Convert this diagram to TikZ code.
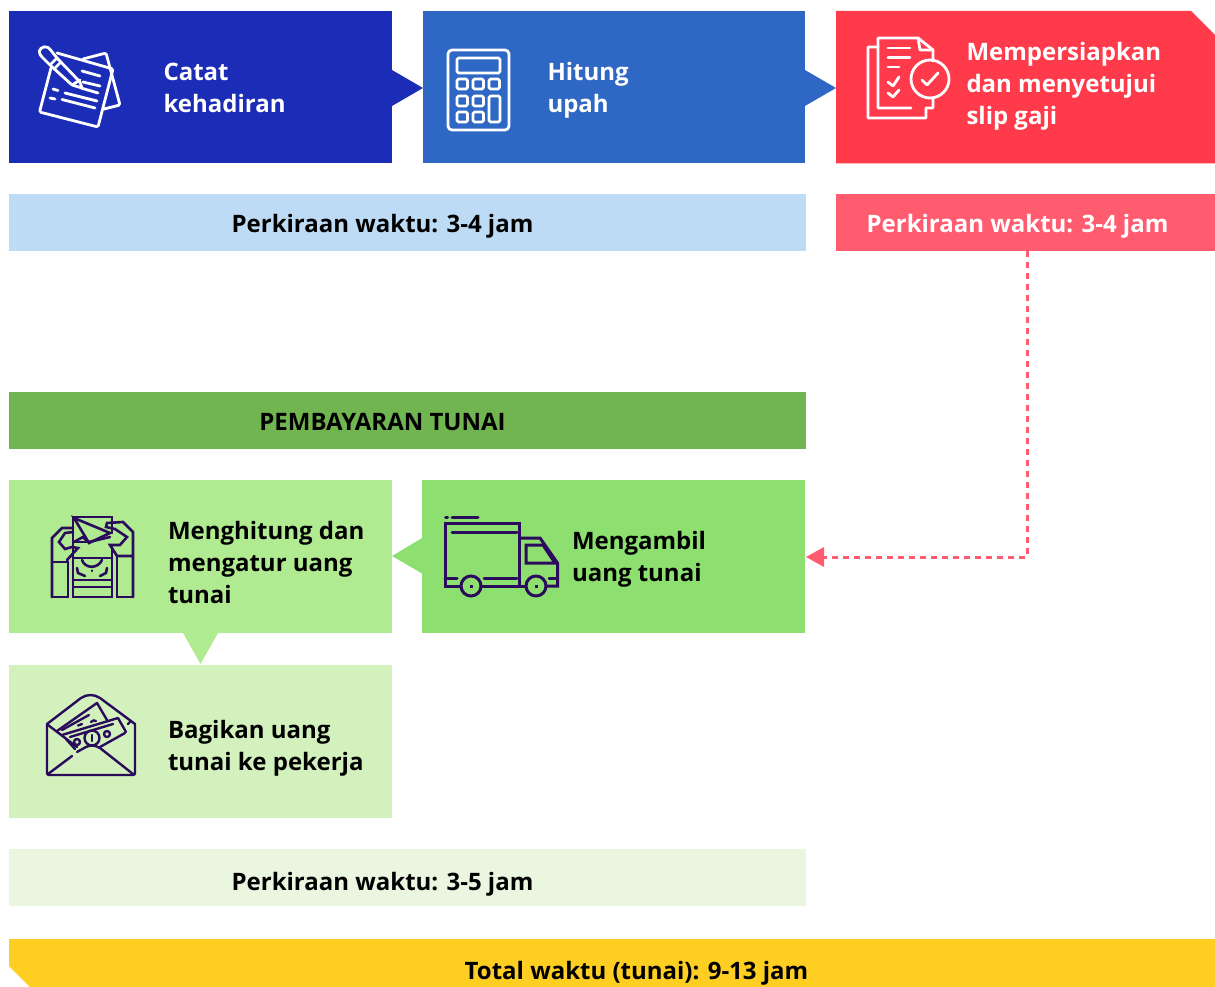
\documentclass[tikz,border=0pt]{standalone}
\usepackage{fontspec}
\usetikzlibrary{calc}
\setmainfont{Open Sans}
\definecolor{cblue}{HTML}{1B2DB6}
\definecolor{cmid}{HTML}{2F68C4}
\definecolor{cred}{HTML}{FF3B4B}
\definecolor{cestb}{HTML}{BDDBF4}
\definecolor{cestr}{HTML}{FF5C70}
\definecolor{cgreen}{HTML}{71B551}
\definecolor{clight}{HTML}{B0EB91}
\definecolor{cgmid}{HTML}{8DDF70}
\definecolor{cpale}{HTML}{D2F1BC}
\definecolor{cestg}{HTML}{EAF6DF}
\definecolor{cyel}{HTML}{FFCE23}
\definecolor{cink}{HTML}{2B0B5C}
\tikzset{
  x=1pt,y=-1pt,
  boxn/.style={fill=#1,inner sep=0,outer sep=0,minimum width=383,minimum height=153,anchor=north west},
  bar/.style={fill=#1,inner sep=0,outer sep=0,minimum width=797,minimum height=57,anchor=north west},
  txt/.style={inner sep=0,outer sep=0,align=left,anchor=west,font=\fontsize{24}{32}\selectfont\bfseries,text=#1},
  lbl/.style={inner sep=0,outer sep=0,anchor=base,font=\fontsize{24}{32}\selectfont\bfseries,text=#1},
  iw/.style={draw=white,line width=2.8,rounded corners=1.5,line cap=round,line join=round},
  ik/.style={draw=cink,line width=3,line cap=round,line join=miter},
  dashline/.style={draw=cestr,line width=3,dash pattern=on 6pt off 5pt},
}
\begin{document}
\begin{tikzpicture}
\useasboundingbox (0,0) rectangle (1215,987);
% top row
\node[boxn=cblue,minimum height=152.5] (catat) at (9,11) {};
\node[boxn=cmid,minimum width=382,minimum height=152.5] (hitung) at (423,11) {};
\fill[cred] (836,11) -- (1191,11) -- (1215,35) -- (1215,163.5) -- (836,163.5) -- cycle;
\fill[cblue] (392,70) -- (423,88) -- (392,106) -- cycle;
\fill[cmid] (805,70) -- (836,88) -- (805,106) -- cycle;
\node[txt=white] (t1) at (163.5,87.5) {Catat\\kehadiran};
\node[txt=white] (t2) at (547.5,90) {Hitung\\upah};
\node[txt=white] (t3) at (966.5,86) {Mempersiapkan\\dan menyetujui\\slip gaji};
% estimates
\node[bar=cestb] (est1) at (9,194) {};
\node[bar=cestr,minimum width=379] (est2) at (836,194) {};
\node[lbl=black] (e1) at (382.5,232.5) {Perkiraan waktu: 3-4 jam};
\node[lbl=white] (e2) at (1017.5,232.5) {Perkiraan waktu: 3-4 jam};
% cash
\node[bar=cgreen] (cash) at (9,392) {};
\node[lbl=black] (c1) at (382.5,430) {PEMBAYARAN TUNAI};
\node[boxn=clight] (count) at (9,480) {};
\node[boxn=cgmid] (take) at (422,480) {};
\node[boxn=cpale] (share) at (9,665) {};
\fill[cgmid] (422,538) -- (392,556) -- (422,573.5) -- cycle;
\fill[clight] (183,633) -- (218,633) -- (200.5,664) -- cycle;
\node[txt=black] (t4) at (168,562) {Menghitung dan\\mengatur uang\\tunai};
\node[txt=black] (t5) at (572,559) {Mengambil\\uang tunai};
\node[txt=black] (t6) at (168,748) {Bagikan uang\\tunai ke pekerja};
\node[bar=cestg] (est3) at (9,849) {};
\node[lbl=black] (e3) at (382.5,890) {Perkiraan waktu: 3-5 jam};
\fill[cyel] (9,939) -- (1215,939) -- (1215,987) -- (30,987) -- (9,966) -- cycle;
\node[lbl=black] (tot) at (636.5,979) {Total waktu (tunai): 9-13 jam};
% dashed connector
\coordinate (bend) at (1027,557);
\coordinate (tip) at (806,557);
\draw[dashline] (est2.south -| bend) -- (bend) -- ($(tip)+(18,0)$);
\fill[cestr] (tip) -- (824,547) -- (824,567) -- cycle;
% icon: notes
\begin{scope}[iw]
\draw (83,59) -- (106,53) -- (120,105) -- (104,109);
\draw (57,53) -- (113,69) -- (98,127) -- (39.5,112) -- (51,68);
\draw (50,65) -- (41,56) .. controls (37,50) and (43,45) .. (49,48) -- (57,58) -- (80,82) -- (82,88) -- (72,85) -- cycle;
\draw (50,65) -- (57,58);
\draw (54,69) -- (61,62);
\draw (72,85) -- (80,80);
\draw (82,71) -- (100,76);
\draw (83,82) -- (100,86);
\draw (81,88) -- (98,93);
\draw (53,89) -- (58,90.5);
\draw (65,93) -- (97,101);
\draw (50,98) -- (55,99);
\draw (62,99.5) -- (95,108);
\end{scope}
% icon: calculator
\begin{scope}[iw]
\draw[rounded corners=4] (448,50) rectangle (509,130);
\draw (457,58) rectangle (500,73);
\foreach \bx/\by in {457/79,473/79,489/79,457/96,473/96,457/112,473/112}
  \draw (\bx,\by) rectangle ++(10.5,10);
\draw (489,96) rectangle (500,122);
\end{scope}
% icon: payslip
\begin{scope}[iw,rounded corners=0.5]
\draw (933,61) -- (933,50) -- (918,38) -- (878,38) -- (878,108) -- (911,108);
\draw (933,98) -- (933,108) -- (926,108);
\draw (918,38) -- (920,50) -- (933,50);
\draw (878,47) -- (868,47) -- (868,118) -- (926,118) -- (926,108);
\draw (888,48) -- (910,48);
\draw (888,57.5) -- (910,57.5);
\draw (888,67) -- (899,67);
\draw (888,82) -- (893,86) -- (899,77);
\draw (888,93) -- (893,97) -- (899,90);
\draw (930,79) circle (19);
\draw (922,80) -- (927,85) -- (938,73);
\end{scope}
% icon: counting cash
\begin{scope}[ik,line width=2.6]
\draw (73,517) -- (112,517) -- (112,533);
\draw (73,517) -- (73,597) -- (112,597) -- (112,547);
\draw (73,558) -- (112,558);
\draw (73,580) -- (112,580);
\draw (73,587) -- (112,587);
\draw (82,560) .. controls (85,569) and (98,569) .. (102,560);
\draw (77,568) -- (78,573) -- (85,576);
\draw (107,568) -- (106,573) -- (100,576);
\draw (92,570.5) -- (92,571);
\draw (52,597) -- (52,538) -- (62,528) -- (73,528);
\draw (52,597) -- (68,597) -- (68,562) -- (52,562);
\draw (73,532) -- (65,533) -- (59,542) -- (65,549) -- (72,547) -- (78,548) -- (67,560);
\draw (133,597) -- (133,532) -- (123,522) -- (107,523) -- (106,527) -- (115,529) -- (127,537) -- (120,545) -- (110,545) -- (117,556) -- (133,556);
\draw (133,597) -- (117,597) -- (117,556);
\draw (74,518) -- (110,533) -- (89,543) -- cycle;
\draw (74,542) -- (83,537) -- (88,542);
\draw (89,542) -- (110,537);
\draw (74,542) -- (88,542);
\end{scope}
% icon: truck
\begin{scope}[ik]
\draw (460,586) -- (445,586) -- (445,523) -- (519,523) -- (519,586);
\draw (482,586) -- (525,586);
\draw (445.5,517) -- (447.5,517);
\draw (452,517) -- (478,517);
\draw (452,532) -- (517,532);
\draw (445,578) -- (457,578);
\draw (484,578) -- (517,578);
\draw (549,578) -- (557,578);
\draw (520,538) -- (540,538) -- (557.5,563) -- (557.5,586) -- (547,586);
\draw (526,545) -- (543,545) -- (555,563) -- (526,563) -- cycle;
\draw (471,586) circle (10);
\draw (536,586) circle (10);
\fill[cink] (469.5,584.5) rectangle (472.5,587.5);
\fill[cink] (534.5,584.5) rectangle (537.5,587.5);
\end{scope}
% icon: envelope
\begin{scope}[ik,line width=2.4,line join=round]
\draw[rounded corners=2] (47,724) -- (47,775) -- (135,775) -- (135,724);
\draw (47,724) -- (81,698) .. controls (87,694) and (94,694) .. (100,698) -- (135,724);
\draw (48,725) -- (77,747);
\draw (48,774) -- (72,756);
\draw (77,752) -- (86,747) .. controls (90,745) and (95,745) .. (100,748) -- (133,774);
\draw (57,731) -- (97,703) -- (107,720);
\draw (62,730) -- (89,715);
\draw (62,735) -- (118,718) -- (126,732);
\draw (70,737) -- (113,724);
\draw (66,739) -- (75,749);
\draw (100,747) -- (125,733);
\draw (92,738) circle (7.5);
\draw (92,735) -- (92,741);
\draw (107,734) circle (3);
\draw (77,742) circle (3);
\draw (78,725.5) -- (82,724);
\draw (91,722) .. controls (92,720) and (95,720) .. (96,721);
\draw (128,724) -- (130,722);
\end{scope}
\end{tikzpicture}
\end{document}
